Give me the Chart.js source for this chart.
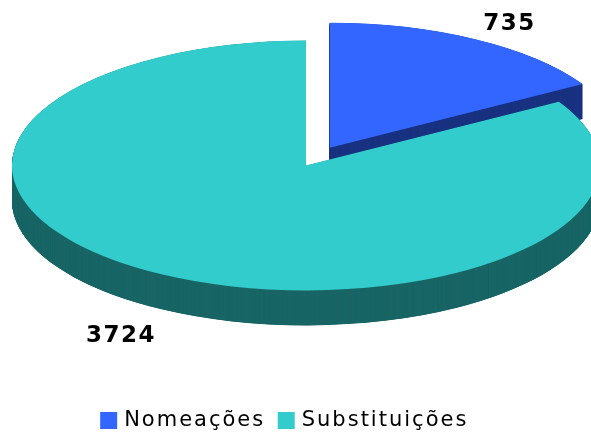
<!DOCTYPE html>
<html><head><meta charset="utf-8">
<style>html,body{margin:0;padding:0;background:#fff}#w{width:591px;height:433px;overflow:hidden}</style>
<script src="https://cdn.jsdelivr.net/npm/chart.js@4"></script>
</head><body><div id="w"><canvas id="c" width="591" height="433"></canvas></div>
<script>
const categories = ["Nomeações", "Substituições"];
const values = [735, 3724];
const topColors = ["#3366FF", "#33CCCC"];
const sideColors = ["#1A3380", "#1A6666"];
const explode = [48, 0];
const CX = 306, CY = 165.5, K = 0.425, DEPTH = 35;
const labelPos = [[509.5, 24], [121, 336]];

function project(ctx, arc, i) {
  const mid = (arc.startAngle + arc.endAngle) / 2;
  ctx.translate(CX, CY);
  ctx.scale(1, K);
  ctx.translate(Math.cos(mid) * explode[i], Math.sin(mid) * explode[i]);
  ctx.translate(-arc.x, -arc.y);
}
const pie3d = {
  id: 'pie3d',
  beforeLayout(chart) { chart.ctx.letterSpacing = '2px'; },
  beforeDraw(chart) { chart.ctx.letterSpacing = '2px'; },
  beforeDatasetDraw(chart) {
    const ctx = chart.ctx;
    const arcs = chart.getDatasetMeta(0).data;
    arcs.forEach((arc, i) => {
      const saved = arc.options;
      arc.options = Object.assign({}, saved, {backgroundColor: sideColors[i], borderColor: sideColors[i], borderWidth: 0});
      for (let d = DEPTH; d >= 0.25; d -= 0.25) {
        ctx.save();
        ctx.translate(0, d);
        project(ctx, arc, i);
        arc.draw(ctx);
        ctx.restore();
      }
      arc.options = saved;
    });
    arcs.forEach((arc, i) => {
      ctx.save();
      project(ctx, arc, i);
      arc.draw(ctx);
      ctx.restore();
    });
    return false;
  },
  afterDatasetsDraw(chart) {
    const ctx = chart.ctx;
    ctx.save();
    ctx.fillStyle = '#000';
    ctx.font = 'bold 23px "DejaVu Sans"';
    ctx.letterSpacing = '1.5px';
    ctx.textAlign = 'center';
    ctx.textBaseline = 'middle';
    values.forEach((v, i) => ctx.fillText(String(v), labelPos[i][0], labelPos[i][1]));
    ctx.restore();
  }
};
new Chart(document.getElementById('c'), {
  type: 'pie',
  data: {labels: categories, datasets: [{data: values, backgroundColor: topColors, borderWidth: 0, clip: false}]},
  options: {
    responsive: false, animation: false, radius: 294,
    layout: {padding: {right: 19, bottom: -8}},
    plugins: {
      tooltip: {enabled: false},
      legend: {position: 'bottom', labels: {color: '#000', usePointStyle: true, pointStyle: 'rect', boxWidth: 10, boxHeight: 17, padding: 16, font: {family: '"DejaVu Sans"', size: 21}}}
    }
  },
  plugins: [pie3d]
});
</script></body></html>
